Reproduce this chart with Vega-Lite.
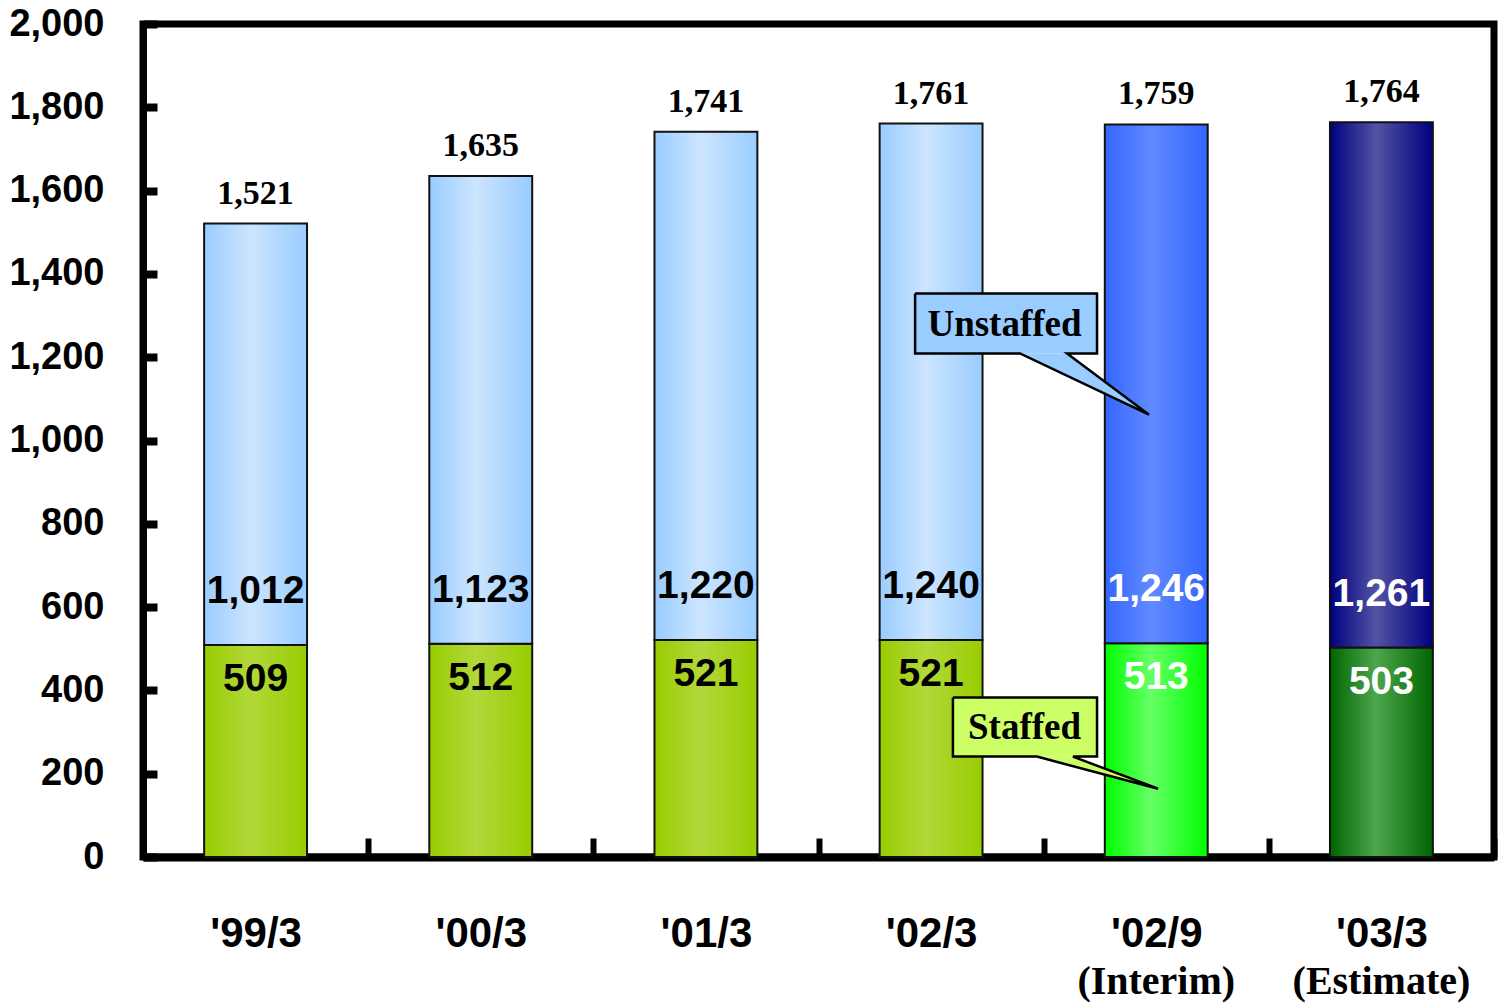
{
  "$schema": "https://vega.github.io/schema/vega-lite/v6.json",
  "width": 1351,
  "height": 833,
  "autosize": {"type": "none"},
  "padding": {"left": 143, "top": 24, "right": 4, "bottom": 149},
  "background": "white",
  "config": {
    "view": {"stroke": "black", "strokeWidth": 7},
    "text": {"fontWeight": "bold"}
  },
  "datasets": {
    "periods": [
      {"period": "'99/3", "note": "", "tone": "base", "staffed": 509, "unstaffed": 1012, "total": 1521},
      {"period": "'00/3", "note": "", "tone": "base", "staffed": 512, "unstaffed": 1123, "total": 1635},
      {"period": "'01/3", "note": "", "tone": "base", "staffed": 521, "unstaffed": 1220, "total": 1741},
      {"period": "'02/3", "note": "", "tone": "base", "staffed": 521, "unstaffed": 1240, "total": 1761},
      {"period": "'02/9", "note": "(Interim)", "tone": "interim", "staffed": 513, "unstaffed": 1246, "total": 1759},
      {"period": "'03/3", "note": "(Estimate)", "tone": "estimate", "staffed": 503, "unstaffed": 1261, "total": 1764}
    ],
    "boxes": [
      {"callout": "Unstaffed", "x0": 3.429, "x1": 4.237, "top": 1353, "bottom": 1209, "tx": 3.826, "ty": 1278},
      {"callout": "Staffed", "x0": 3.597, "x1": 4.237, "top": 383, "bottom": 241, "tx": 3.915, "ty": 309}
    ],
    "pointers": [
      {"callout": "Unstaffed", "x": 3.895, "top": 1209, "bottom": 1209},
      {"callout": "Unstaffed", "x": 4.104, "top": 1209, "bottom": 1155},
      {"callout": "Unstaffed", "x": 4.468, "top": 1062, "bottom": 1062},
      {"callout": "Staffed", "x": 3.970, "top": 241, "bottom": 241},
      {"callout": "Staffed", "x": 4.130, "top": 241, "bottom": 218},
      {"callout": "Staffed", "x": 4.508, "top": 164, "bottom": 164}
    ],
    "outlines": [
      {"callout": "Unstaffed", "seq": 1, "x": 3.429, "y": 1353},
      {"callout": "Unstaffed", "seq": 2, "x": 4.237, "y": 1353},
      {"callout": "Unstaffed", "seq": 3, "x": 4.237, "y": 1209},
      {"callout": "Unstaffed", "seq": 4, "x": 4.104, "y": 1209},
      {"callout": "Unstaffed", "seq": 5, "x": 4.468, "y": 1062},
      {"callout": "Unstaffed", "seq": 6, "x": 3.895, "y": 1209},
      {"callout": "Unstaffed", "seq": 7, "x": 3.429, "y": 1209},
      {"callout": "Unstaffed", "seq": 8, "x": 3.429, "y": 1353},
      {"callout": "Staffed", "seq": 1, "x": 3.597, "y": 383},
      {"callout": "Staffed", "seq": 2, "x": 4.237, "y": 383},
      {"callout": "Staffed", "seq": 3, "x": 4.237, "y": 241},
      {"callout": "Staffed", "seq": 4, "x": 4.130, "y": 241},
      {"callout": "Staffed", "seq": 5, "x": 4.508, "y": 164},
      {"callout": "Staffed", "seq": 6, "x": 3.970, "y": 241},
      {"callout": "Staffed", "seq": 7, "x": 3.597, "y": 241},
      {"callout": "Staffed", "seq": 8, "x": 3.597, "y": 383}
    ]
  },
  "layer": [
    {
      "data": {"name": "periods"},
      "encoding": {
        "x": {
          "field": "period",
          "type": "nominal",
          "scale": {
            "domain": ["'99/3", "'00/3", "'01/3", "'02/3", "'02/9", "'03/3"],
            "paddingInner": 0,
            "paddingOuter": 0
          },
          "axis": {
            "title": null,
            "labelAngle": 0,
            "labelFont": "Liberation Sans, Arial, sans-serif",
            "labelFontWeight": "bold",
            "labelFontSize": 42,
            "labelColor": "black",
            "labelPadding": 75,
            "labelLimit": 0,
            "tickBand": "extent",
            "tickSize": -19,
            "tickWidth": 6,
            "tickColor": "black",
            "domainColor": "black",
            "domainWidth": 8
          }
        }
      },
      "layer": [
        {
          "transform": [{"filter": "datum.tone === 'base'"}],
          "mark": {"type": "bar", "width": {"band": 0.457}, "stroke": "#111", "strokeWidth": 2,
            "color": {"gradient": "linear", "x1": 0, "y1": 0, "x2": 1, "y2": 0,
              "stops": [{"offset": 0, "color": "#99cc00"}, {"offset": 0.45, "color": "#b2d83a"}, {"offset": 1, "color": "#99cc00"}]}},
          "encoding": {"y": {"field": "staffed", "type": "quantitative"}}
        },
        {
          "transform": [{"filter": "datum.tone === 'interim'"}],
          "mark": {"type": "bar", "width": {"band": 0.457}, "stroke": "#111", "strokeWidth": 2,
            "color": {"gradient": "linear", "x1": 0, "y1": 0, "x2": 1, "y2": 0,
              "stops": [{"offset": 0, "color": "#00ff00"}, {"offset": 0.45, "color": "#66ff66"}, {"offset": 1, "color": "#00ff00"}]}},
          "encoding": {"y": {"field": "staffed", "type": "quantitative"}}
        },
        {
          "transform": [{"filter": "datum.tone === 'estimate'"}],
          "mark": {"type": "bar", "width": {"band": 0.457}, "stroke": "#111", "strokeWidth": 2,
            "color": {"gradient": "linear", "x1": 0, "y1": 0, "x2": 1, "y2": 0,
              "stops": [{"offset": 0, "color": "#006600"}, {"offset": 0.45, "color": "#4da64d"}, {"offset": 1, "color": "#006600"}]}},
          "encoding": {"y": {"field": "staffed", "type": "quantitative"}}
        },
        {
          "transform": [{"filter": "datum.tone === 'base'"}],
          "mark": {"type": "bar", "width": {"band": 0.457}, "stroke": "#111", "strokeWidth": 2,
            "color": {"gradient": "linear", "x1": 0, "y1": 0, "x2": 1, "y2": 0,
              "stops": [{"offset": 0, "color": "#99ccff"}, {"offset": 0.45, "color": "#cce5ff"}, {"offset": 1, "color": "#99ccff"}]}},
          "encoding": {"y": {"field": "total", "type": "quantitative"}, "y2": {"field": "staffed"}}
        },
        {
          "transform": [{"filter": "datum.tone === 'interim'"}],
          "mark": {"type": "bar", "width": {"band": 0.457}, "stroke": "#111", "strokeWidth": 2,
            "color": {"gradient": "linear", "x1": 0, "y1": 0, "x2": 1, "y2": 0,
              "stops": [{"offset": 0, "color": "#3366ff"}, {"offset": 0.45, "color": "#6189ff"}, {"offset": 1, "color": "#3366ff"}]}},
          "encoding": {"y": {"field": "total", "type": "quantitative"}, "y2": {"field": "staffed"}}
        },
        {
          "transform": [{"filter": "datum.tone === 'estimate'"}],
          "mark": {"type": "bar", "width": {"band": 0.457}, "stroke": "#111", "strokeWidth": 2,
            "color": {"gradient": "linear", "x1": 0, "y1": 0, "x2": 1, "y2": 0,
              "stops": [{"offset": 0, "color": "#000080"}, {"offset": 0.45, "color": "#5353a3"}, {"offset": 1, "color": "#000080"}]}},
          "encoding": {"y": {"field": "total", "type": "quantitative"}, "y2": {"field": "staffed"}}
        },
        {
          "mark": {"type": "text", "font": "Liberation Serif", "fontSize": 34, "baseline": "alphabetic", "dy": -20, "color": "black"},
          "encoding": {
            "y": {"field": "total", "type": "quantitative"},
            "text": {"field": "total", "type": "quantitative", "format": ",d"}
          }
        },
        {
          "mark": {"type": "text", "font": "Liberation Sans, Arial, sans-serif", "fontSize": 39, "baseline": "alphabetic", "dy": 46},
          "encoding": {
            "y": {"field": "staffed", "type": "quantitative"},
            "text": {"field": "staffed", "type": "quantitative", "format": ",d"},
            "color": {"condition": {"test": "datum.tone !== 'base'", "value": "white"}, "value": "black"}
          }
        },
        {
          "mark": {"type": "text", "font": "Liberation Sans, Arial, sans-serif", "fontSize": 39, "baseline": "alphabetic", "dy": -42},
          "encoding": {
            "y": {"field": "staffed", "type": "quantitative"},
            "text": {"field": "unstaffed", "type": "quantitative", "format": ",d"},
            "color": {"condition": {"test": "datum.tone !== 'base'", "value": "white"}, "value": "black"}
          }
        },
        {
          "transform": [{"filter": "datum.note !== ''"}],
          "mark": {"type": "text", "font": "Liberation Serif", "fontSize": 40, "baseline": "alphabetic", "dy": 137, "color": "black"},
          "encoding": {
            "y": {"datum": 0},
            "text": {"field": "note"}
          }
        }
      ]
    },
    {
      "layer": [
        {
          "data": {"name": "boxes"},
          "mark": {"type": "rect"},
          "encoding": {
            "x": {"field": "x0", "type": "quantitative", "scale": {"domain": [0, 6]}, "axis": null},
            "x2": {"field": "x1"},
            "y": {"field": "top", "type": "quantitative", "axis": null},
            "y2": {"field": "bottom"},
            "color": {"field": "callout", "type": "nominal", "scale": {"domain": ["Unstaffed", "Staffed"], "range": ["#99ccff", "#ccff66"]}, "legend": null}
          }
        },
        {
          "data": {"name": "pointers"},
          "mark": {"type": "area", "orient": "vertical", "opacity": 1},
          "encoding": {
            "x": {"field": "x", "type": "quantitative", "scale": {"domain": [0, 6]}, "axis": null},
            "y": {"field": "top", "type": "quantitative", "axis": null},
            "y2": {"field": "bottom"},
            "detail": {"field": "callout"},
            "color": {"field": "callout", "type": "nominal", "scale": {"domain": ["Unstaffed", "Staffed"], "range": ["#99ccff", "#ccff66"]}, "legend": null}
          }
        },
        {
          "data": {"name": "outlines"},
          "mark": {"type": "line", "color": "black", "strokeWidth": 2.5, "strokeJoin": "miter"},
          "encoding": {
            "x": {"field": "x", "type": "quantitative", "scale": {"domain": [0, 6]}, "axis": null},
            "y": {"field": "y", "type": "quantitative", "axis": null},
            "order": {"field": "seq"},
            "detail": {"field": "callout"}
          }
        },
        {
          "data": {"name": "boxes"},
          "mark": {"type": "text", "font": "Liberation Serif", "fontSize": 37, "baseline": "middle", "color": "black"},
          "encoding": {
            "x": {"field": "tx", "type": "quantitative", "scale": {"domain": [0, 6]}, "axis": null},
            "y": {"field": "ty", "type": "quantitative", "axis": null},
            "text": {"field": "callout"}
          }
        }
      ]
    }
  ],
  "encoding": {
    "y": {
      "type": "quantitative",
      "scale": {"domain": [0, 2000], "nice": false, "zero": true},
      "axis": {
        "title": null,
        "grid": false,
        "values": [0, 200, 400, 600, 800, 1000, 1200, 1400, 1600, 1800, 2000],
        "format": ",d",
        "labelFont": "Liberation Sans, Arial, sans-serif",
        "labelFontWeight": "bold",
        "labelFontSize": 38,
        "labelColor": "black",
        "labelPadding": 53,
        "tickSize": -14,
        "tickWidth": 8,
        "tickColor": "black",
        "domainColor": "black",
        "domainWidth": 7
      }
    }
  },
  "resolve": {"scale": {"x": "independent"}, "axis": {"x": "independent", "y": "independent"}}
}
